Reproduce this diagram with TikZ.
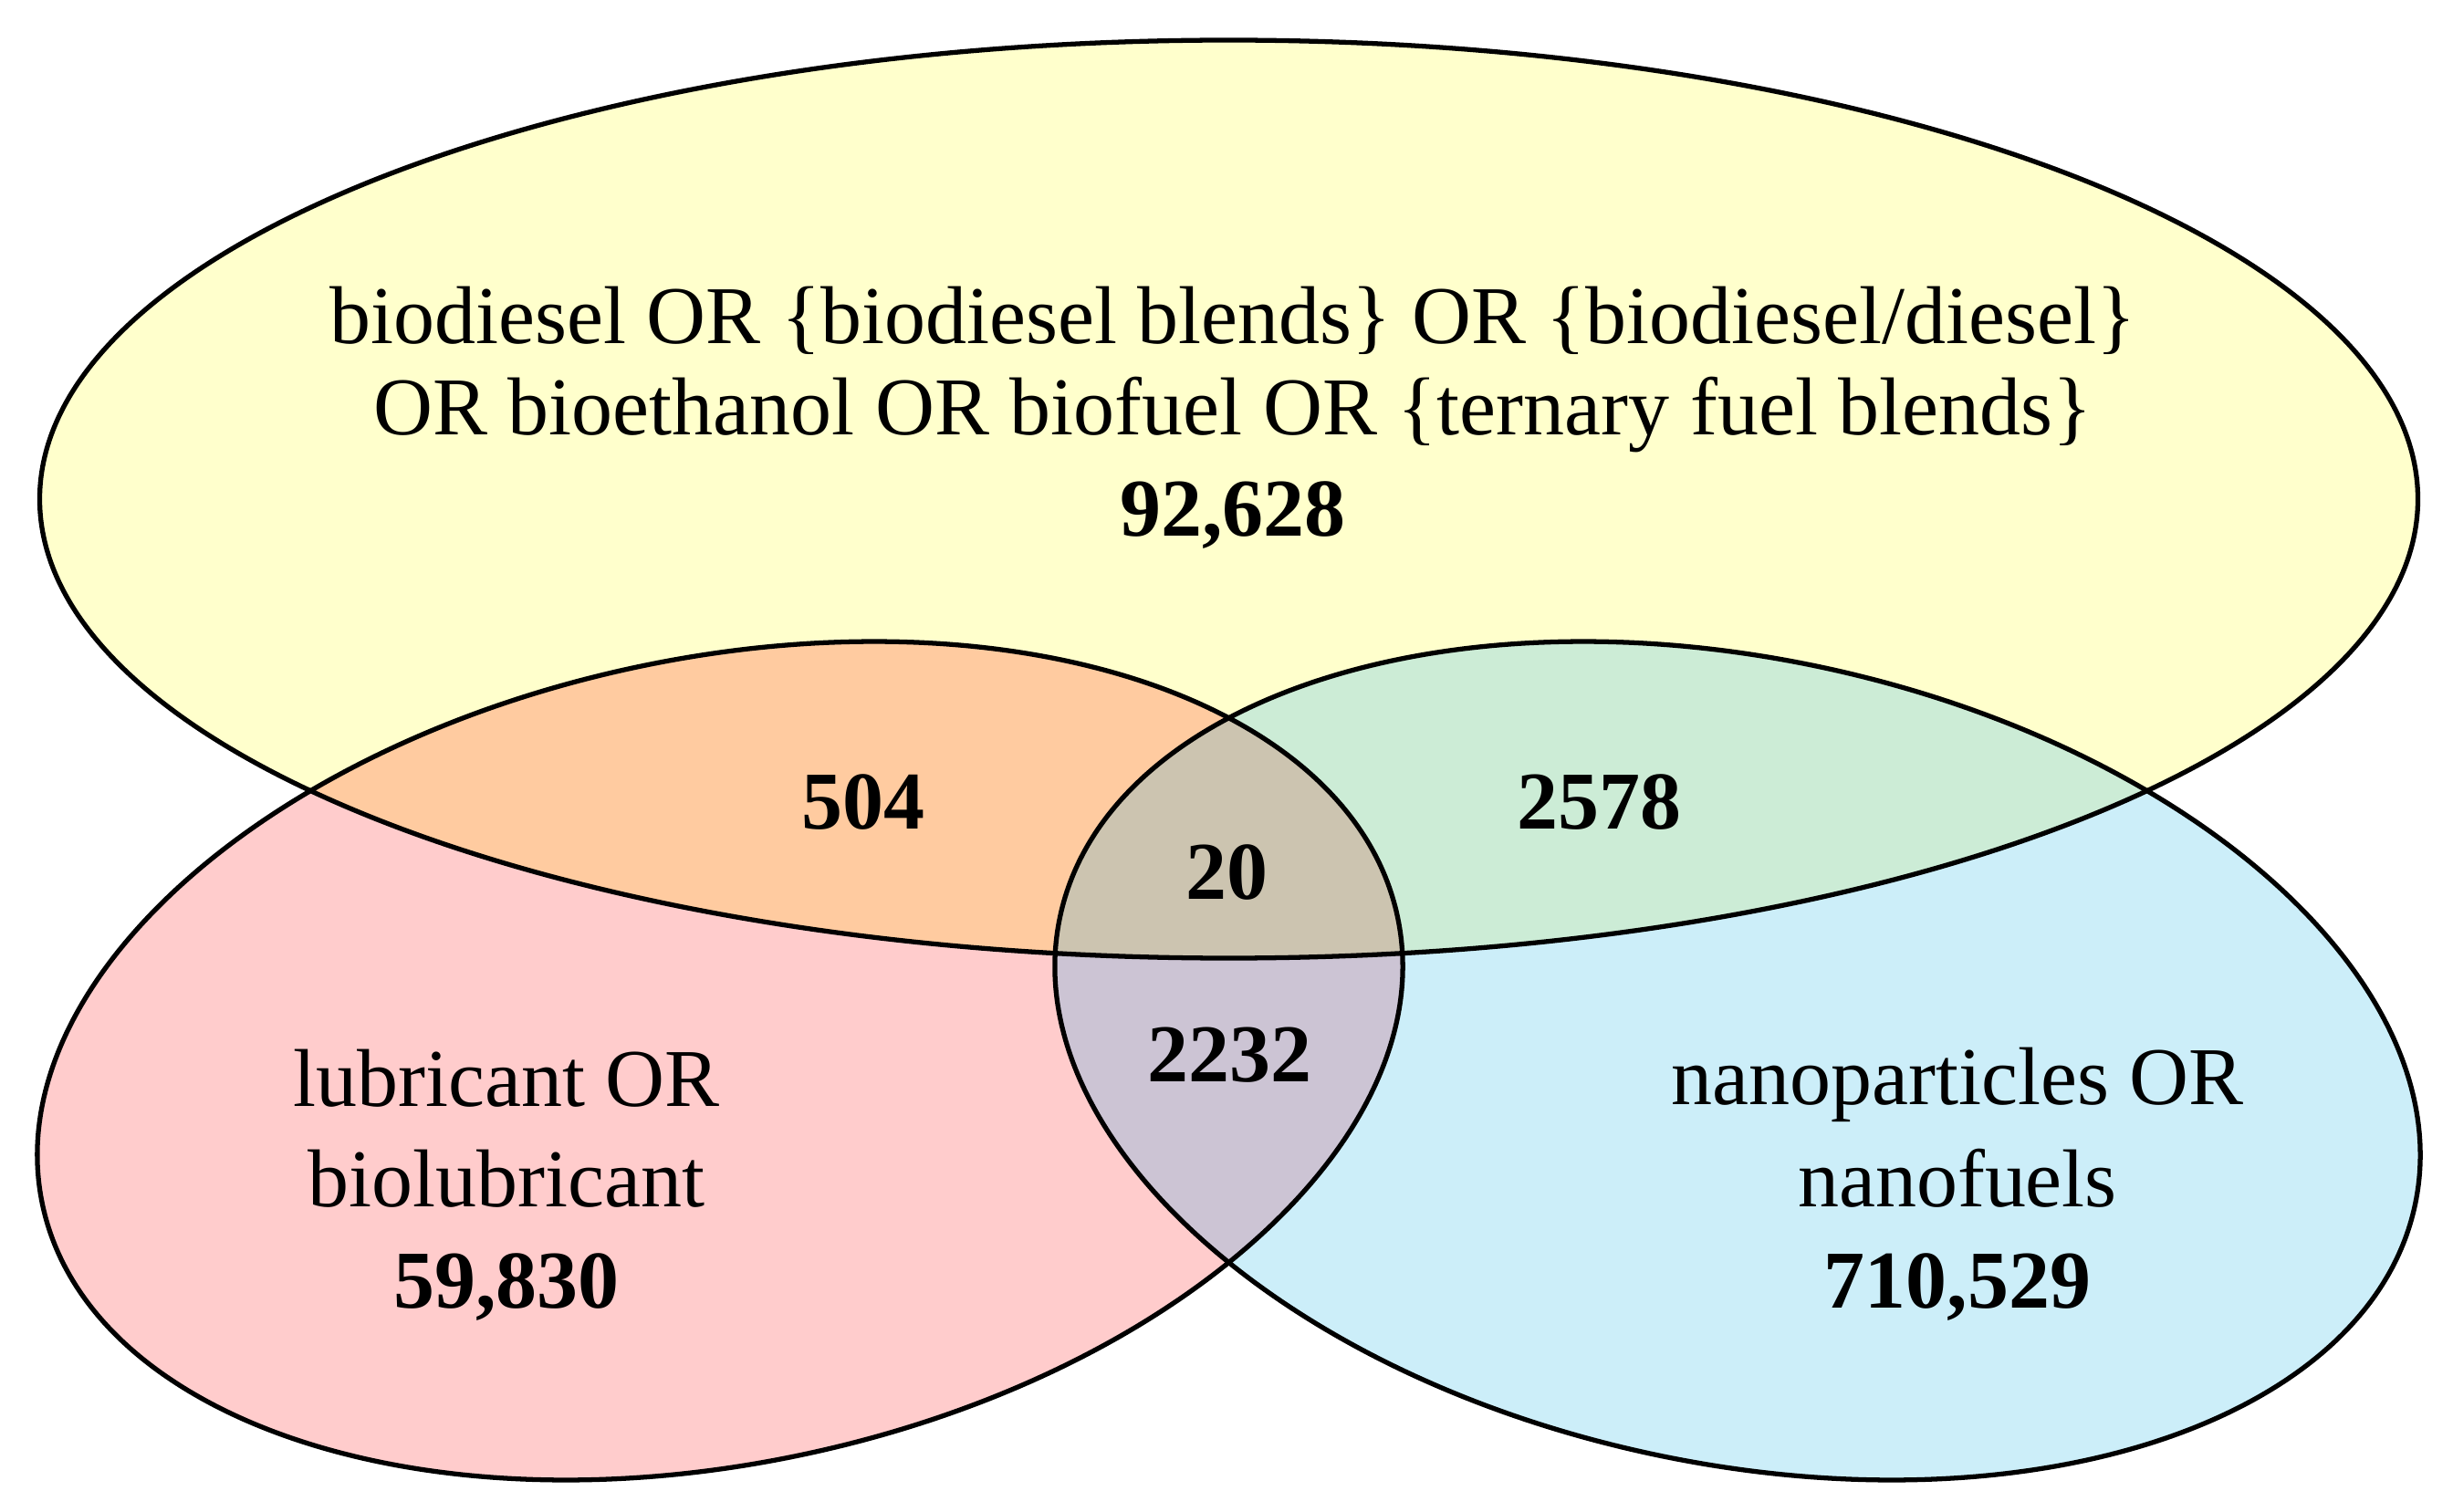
\documentclass[tikz,border=0pt]{standalone}
\usepackage{fontspec}
\setmainfont{Liberation Serif}
\definecolor{cY}{HTML}{FFFFCC}
\definecolor{cR}{HTML}{FFCCCC}
\definecolor{cB}{HTML}{CCEEF9}
\definecolor{cYR}{HTML}{FFCBA0}
\definecolor{cYB}{HTML}{CCECD6}
\definecolor{cRB}{HTML}{CCC4D4}
\definecolor{cYRB}{HTML}{CCC4B0}
\tikzset{
  lbl/.style={anchor=base, inner sep=0pt, font=\fontsize{25.6}{31}\selectfont},
  num/.style={lbl, font=\fontsize{25.6}{31}\selectfont\bfseries},
  outline/.style={draw=black, line width=1.5pt},
}
\begin{document}
\begin{tikzpicture}
\useasboundingbox (0,0) rectangle (26.88,16.56);
\fill[white] (0,0) rectangle (26.88,16.56);
% base fills
\fill[cY] (13.465,11.09) ellipse [x radius=13.03, y radius=5.03];
\fill[cR, rotate around={12:(7.89,4.935)}] (7.89,4.935) ellipse [x radius=7.59, y radius=4.41];
\fill[cB, rotate around={-12:(19.04,4.935)}] (19.04,4.935) ellipse [x radius=7.59, y radius=4.41];
% pairwise overlaps
\begin{scope}
  \clip (13.465,11.09) ellipse [x radius=13.03, y radius=5.03];
  \fill[cYR, rotate around={12:(7.89,4.935)}] (7.89,4.935) ellipse [x radius=7.59, y radius=4.41];
  \fill[cYB, rotate around={-12:(19.04,4.935)}] (19.04,4.935) ellipse [x radius=7.59, y radius=4.41];
\end{scope}
\begin{scope}
  \clip[rotate around={12:(7.89,4.935)}] (7.89,4.935) ellipse [x radius=7.59, y radius=4.41];
  \fill[cRB, rotate around={-12:(19.04,4.935)}] (19.04,4.935) ellipse [x radius=7.59, y radius=4.41];
  \begin{scope}
    \clip (13.465,11.09) ellipse [x radius=13.03, y radius=5.03];
    \fill[cYRB, rotate around={-12:(19.04,4.935)}] (19.04,4.935) ellipse [x radius=7.59, y radius=4.41];
  \end{scope}
\end{scope}
% outlines
\draw[outline] (13.465,11.09) ellipse [x radius=13.03, y radius=5.03];
\draw[outline, rotate around={12:(7.89,4.935)}] (7.89,4.935) ellipse [x radius=7.59, y radius=4.41];
\draw[outline, rotate around={-12:(19.04,4.935)}] (19.04,4.935) ellipse [x radius=7.59, y radius=4.41];
% texts
\node[lbl] (t1) at (13.51,12.79) {biodiesel OR \{biodiesel blends\} OR \{biodiesel/diesel\}};
\node[lbl] (t2) at (13.51,11.79) {OR bioethanol OR biofuel OR \{ternary fuel blends\}};
\node[num] (t3) at (13.51,10.68) {92,628};
\node[lbl] (l1) at (5.55,4.44) {lubricant OR};
\node[lbl] (l2) at (5.55,3.34) {biolubricant};
\node[num] (l3) at (5.55,2.23) {59,830};
\node[lbl] (n1) at (21.45,4.46) {nanoparticles OR};
\node[lbl] (n2) at (21.45,3.34) {nanofuels};
\node[num] (n3) at (21.45,2.23) {710,529};
\node[num] (yr) at (9.46,7.48) {504};
\node[num] (yb) at (17.52,7.48) {2578};
\node[num] (yrb) at (13.44,6.71) {20};
\node[num] (rb) at (13.47,4.71) {2232};
\end{tikzpicture}
\end{document}
